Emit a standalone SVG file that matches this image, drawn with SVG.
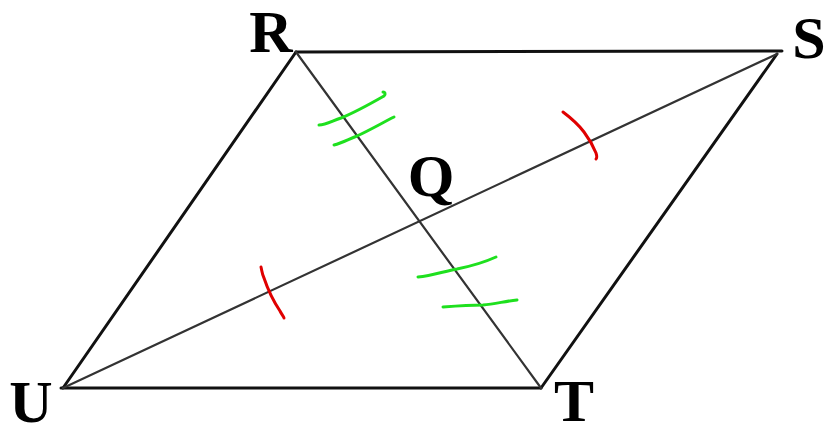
<svg xmlns="http://www.w3.org/2000/svg" width="830" height="427" viewBox="0 0 830 427">
<style>
.side{stroke:#111;stroke-width:3;fill:none;stroke-linecap:round;stroke-linejoin:round}
.diag{stroke:#333;stroke-width:2.2;fill:none;stroke-linecap:round}
.g{stroke:#1ee01e;stroke-width:3;fill:none;stroke-linecap:round;stroke-linejoin:round}
.r{stroke:#e00000;stroke-width:3;fill:none;stroke-linecap:round;stroke-linejoin:round}
.lbl{font-family:"Liberation Serif","Times New Roman",serif;font-weight:bold;font-size:60px;fill:#000;text-anchor:middle}
</style>
<rect width="830" height="427" fill="#fff"/>
<g id="connectors">
<path class="side" d="M296,52 L782,51"/>
<path class="side" d="M777,54 L541,388"/>
<path class="side" d="M61,388 L541,388"/>
<path class="side" d="M63,388 L296,52"/>
<path class="diag" d="M296,52 L541,388"/>
<path class="diag" d="M63,388 L777,54"/>
</g>
<g id="marks">
<path class="g" d="M319,125 C326,125 332,121 341,118 C356,112 370,104 384,96 C386,94 385,92 383,92"/>
<path class="g" d="M334,145 C342,143 349,139 357,136 C370,130 382,123 394,117"/>
<path class="g" d="M418,277 C432,276 445,271 457,269 C472,266 485,262 496,257"/>
<path class="g" d="M443,307 C456,306 470,305 483,305 C495,304 506,301 517,300"/>
<path class="r" d="M563,112 C571,118 578,124 584,132 C590,140 594,148 596,153 C597,156 597,158 596,159"/>
<path class="r" d="M261,267 C262,271 262,274 264,278 C268,290 274,302 280,311 C282,315 284,317 284,318"/>
</g>
<g id="R"><text class="lbl" x="271" y="52">R</text></g>
<g id="S"><text class="lbl" x="809" y="58">S</text></g>
<g id="Q"><text class="lbl" x="431" y="196">Q</text></g>
<g id="U"><text class="lbl" x="31" y="422">U</text></g>
<g id="T"><text class="lbl" x="574" y="421">T</text></g>
</svg>
